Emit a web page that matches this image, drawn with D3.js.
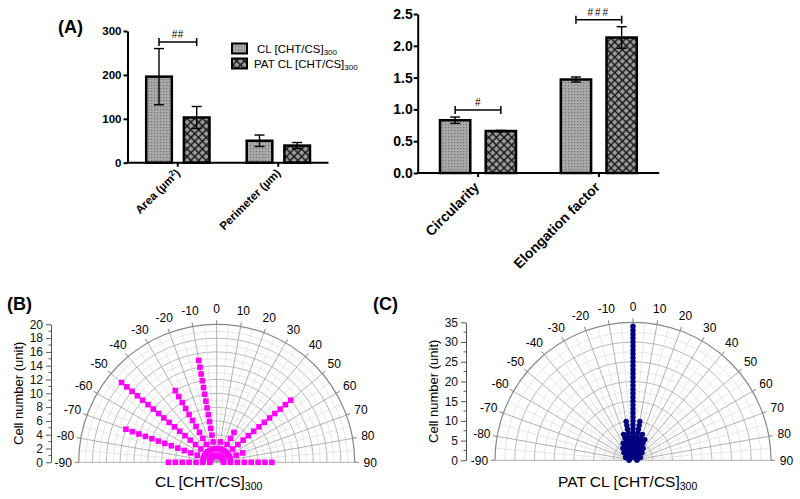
<!DOCTYPE html>
<html><head><meta charset="utf-8">
<script src="https://cdn.jsdelivr.net/npm/d3@7"></script>
<style>
body{margin:0;background:#fff;}
svg{display:block;font-family:"Liberation Sans",Arial,sans-serif;}
</style></head><body>
<svg id="c" width="800" height="499"></svg>
<script>
// ---------------- DATA ----------------
const seriesNames = ["CL", "PAT"];
const sizeCats = ["Area", "Perimeter"];
const sizeCL = [196, 50];
const sizeCLsd = [64, 13];
const sizePAT = [103, 39];
const sizePATsd = [25, 7];
const sizeTicks = [0, 100, 200, 300];
const sizeSig = [{cat: "Area", y: 275, label: "##"}];

const shapeCats = ["Circularity", "Elongation factor"];
const shapeCL = [0.83, 1.47];
const shapeCLsd = [0.05, 0.04];
const shapePAT = [0.66, 2.13];
const shapePATsd = [0.01, 0.17];
const shapeTicks = [0, 0.5, 1.0, 1.5, 2.0, 2.5];
const shapeSig = [{cat: "Circularity", y: 0.99, label: "#"}, {cat: "Elongation factor", y: 2.41, label: "###"}];

const polarAngles = [-90,-80,-70,-60,-50,-40,-30,-20,-10,0,10,20,30,40,50,60,70,80,90];
const polarAngleTicks = [-90,-80,-70,-60,-50,-40,-30,-20,-10,0,10,20,30,40,50,60,70,80,90];
const countsB = [7,2,14,2,18,2,12,2,15,2,3,2,5,2,14,2,4,2,8];
const countsC = [1,1,2,2,3,4,5,7,10,34,10,7,6,4,3,2,2,1,1];
const ticksB = [0,2,4,6,8,10,12,14,16,18,20];
const ticksC = [0,5,10,15,20,25,30,35];

// ---------------- SETUP ----------------
const svg = d3.select("#c");
const defs = svg.append("defs");
const dots = defs.append("pattern").attr("id","dots").attr("patternUnits","userSpaceOnUse")
  .attr("width",3).attr("height",3);
dots.append("rect").attr("width",3).attr("height",3).attr("fill","#a9a9a9");
dots.append("rect").attr("x",1).attr("y",1).attr("width",1.2).attr("height",1.2).attr("fill","#747474");
const hatch = defs.append("pattern").attr("id","hatch").attr("patternUnits","userSpaceOnUse")
  .attr("width",5.4).attr("height",5.4).attr("patternTransform","rotate(45)");
hatch.append("rect").attr("width",5.4).attr("height",5.4).attr("fill","#151515");
hatch.append("rect").attr("x",0.7).attr("y",0.7).attr("width",4).attr("height",4).attr("fill","#9a9a9a");
const fills = {CL: "url(#dots)", PAT: "url(#hatch)"};

function barChart(cfg) {
  const g = svg.append("g");
  const y = d3.scaleLinear().domain([cfg.ticks[0], cfg.ticks[cfg.ticks.length-1]]).range([cfg.yBottom, cfg.yTop]);
  const x0 = d3.scaleBand().domain(cfg.cats).range([cfg.xLeft, cfg.xRight]);
  const x1 = d3.scaleBand().domain(seriesNames).range(cfg.inner).paddingInner(cfg.pad);
  const means = {CL: cfg.cl, PAT: cfg.pat};
  const sds = {CL: cfg.clsd, PAT: cfg.patsd};
  cfg.cats.forEach((c, i) => {
    seriesNames.forEach(s => {
      const m = means[s][i], sd = sds[s][i];
      const bx = x0(c) + x1(s), bw = x1.bandwidth(), mx = bx + bw / 2;
      g.append("rect").attr("x", bx).attr("y", y(m)).attr("width", bw).attr("height", y(0) - y(m))
        .attr("fill", fills[s]).attr("stroke", "#000").attr("stroke-width", 2.5);
      const eg = g.append("g").attr("stroke", "#000").attr("stroke-width", 1.4);
      eg.append("line").attr("x1", mx).attr("x2", mx).attr("y1", y(m - sd)).attr("y2", y(m + sd));
      [m - sd, m + sd].forEach(v => eg.append("line").attr("x1", mx - 5).attr("x2", mx + 5).attr("y1", y(v)).attr("y2", y(v)));
    });
  });
  // y axis
  const ya = g.append("g").attr("transform", `translate(${cfg.xLeft},0)`)
    .call(d3.axisLeft(y).tickValues(cfg.ticks).tickSize(4).tickSizeOuter(0).tickPadding(cfg.tickPad).tickFormat(cfg.fmt));
  ya.select(".domain").attr("stroke-width", 2);
  ya.selectAll(".tick line").attr("stroke-width", 2);
  ya.selectAll(".tick text").attr("font-size", cfg.fs).attr("font-weight", "bold")
    .attr("font-family", '"Liberation Sans",Arial,sans-serif').attr("fill", "#000");
  // x axis
  g.append("line").attr("x1", cfg.xLeft - 1).attr("x2", cfg.xRight).attr("y1", y(0)).attr("y2", y(0))
    .attr("stroke", "#000").attr("stroke-width", 2);
  cfg.cats.forEach((c, i) => {
    const cx = x0(c) + x0.bandwidth() / 2;
    g.append("line").attr("x1", cx).attr("x2", cx).attr("y1", y(0)).attr("y2", y(0) + 4)
      .attr("stroke", "#000").attr("stroke-width", 2);
    const t = g.append("text").attr("transform", `translate(${cx + cfg.lblDx},${y(0) + cfg.lblDy}) rotate(-45)`)
      .attr("text-anchor", "end").attr("font-weight", "bold").attr("font-size", cfg.xfs);
    cfg.labelFn(t, c);
  });
  // significance brackets
  cfg.sig.forEach(sg => {
    const xa = x0(sg.cat) + x1("CL") + x1.bandwidth() / 2;
    const xb = x0(sg.cat) + x1("PAT") + x1.bandwidth() / 2;
    const yy = y(sg.y);
    const bg = g.append("g").attr("stroke", "#000").attr("stroke-width", 1.5);
    bg.append("line").attr("x1", xa).attr("x2", xb).attr("y1", yy).attr("y2", yy);
    bg.append("line").attr("x1", xa).attr("x2", xa).attr("y1", yy - 4).attr("y2", yy + 4);
    bg.append("line").attr("x1", xb).attr("x2", xb).attr("y1", yy - 4).attr("y2", yy + 4);
    g.append("text").attr("x", (xa + xb) / 2).attr("y", yy - 4).attr("text-anchor", "middle")
      .attr("font-size", 10).attr("letter-spacing", sg.label.length > 2 ? 2 : 0.5).text(sg.label);
  });
}

barChart({
  cats: sizeCats, cl: sizeCL, clsd: sizeCLsd, pat: sizePAT, patsd: sizePATsd,
  ticks: sizeTicks, fmt: d3.format("d"), yBottom: 162.7, yTop: 31,
  xLeft: 127.5, xRight: 328.5, inner: [18.7, 82], pad: 0.32, fs: 11.5, xfs: 11.5, tickPad: 2,
  lblDx: 3, lblDy: 11, sig: sizeSig,
  labelFn: (t, c) => {
    if (c === "Area") { t.append("tspan").text("Area (\u00b5m"); t.append("tspan").attr("baseline-shift","super").attr("font-size", 8).text("2"); t.append("tspan").text(")"); }
    else t.text("Perimeter (\u00b5m)");
  }
});
barChart({
  cats: shapeCats, cl: shapeCL, clsd: shapeCLsd, pat: shapePAT, patsd: shapePATsd,
  ticks: shapeTicks, fmt: d3.format(".1f"), yBottom: 173, yTop: 14,
  xLeft: 417.7, xRight: 659.3, inner: [22.3, 98.3], pad: 0.337, fs: 14, xfs: 14, tickPad: 1,
  lblDx: 2, lblDy: 15, sig: shapeSig,
  labelFn: (t, c) => t.text(c)
});

// legend
[["CL", "CL [CHT/CS]", 43.5, 257], ["PAT", "PAT CL [CHT/CS]", 58.5, 254]].forEach(([s, lab, yy, tx]) => {
  svg.append("rect").attr("x", 232).attr("y", yy).attr("width", 15).attr("height", 10)
    .attr("fill", fills[s]).attr("stroke", "#000").attr("stroke-width", 2);
  const t = svg.append("text").attr("x", tx).attr("y", yy + 9).attr("font-size", 11.5);
  t.append("tspan").text(lab);
  t.append("tspan").attr("dy", 2.5).attr("font-size", 8).text("300");
});

// ---------------- POLAR ----------------
function polarPanel(cfg) {
  const g = svg.append("g");
  const {cx, cy, R, ticks, counts, minorStep} = cfg;
  const max = ticks[ticks.length - 1];
  const r = d3.scaleLinear().domain([0, max]).range([0, R]);
  const arcPath = rr => `M${cx - rr},${cy}A${rr},${rr} 0 0 1 ${cx + rr},${cy}`;
  // minor circles
  d3.range(minorStep, max, minorStep).forEach(v => {
    if (ticks.includes(v)) return;
    g.append("path").attr("d", arcPath(r(v))).attr("fill", "none").attr("stroke", "#dcdcdc").attr("stroke-width", 0.7);
  });
  ticks.slice(1, -1).forEach(v => g.append("path").attr("d", arcPath(r(v))).attr("fill", "none")
    .attr("stroke", "#a8a8a8").attr("stroke-width", 0.8));
  // radial lines
  d3.range(-85, 90, 10).forEach(a => {
    const p = d3.pointRadial(a * Math.PI / 180, R);
    g.append("line").attr("x1", cx).attr("y1", cy).attr("x2", cx + p[0]).attr("y2", cy + p[1])
      .attr("stroke", "#dcdcdc").attr("stroke-width", 0.7);
  });
  polarAngleTicks.forEach(a => {
    const p = d3.pointRadial(a * Math.PI / 180, R);
    const q = d3.pointRadial(a * Math.PI / 180, R + 4);
    g.append("line").attr("x1", cx).attr("y1", cy).attr("x2", cx + p[0]).attr("y2", cy + p[1])
      .attr("stroke", "#a0a0a0").attr("stroke-width", 0.8);
    g.append("line").attr("x1", cx + p[0]).attr("y1", cy + p[1]).attr("x2", cx + q[0]).attr("y2", cy + q[1])
      .attr("stroke", "#808080").attr("stroke-width", 1);
    const l = d3.pointRadial(a * Math.PI / 180, R + 15.5);
    g.append("text").attr("x", cx + l[0]).attr("y", cy + l[1]).attr("dy", "0.36em")
      .attr("text-anchor", "middle").attr("font-size", 12).text(a);
  });
  g.append("path").attr("d", arcPath(R)).attr("fill", "none").attr("stroke", "#888").attr("stroke-width", 1.2);
  // data points
  const pts = polarAngles.flatMap((a, i) => d3.range(1, counts[i] + 1).map(k => ({a, k})));
  pts.forEach(d => {
    const p = d3.pointRadial(d.a * Math.PI / 180, r(d.k));
    if (cfg.marker === "square")
      g.append("rect").attr("x", cx + p[0] - 2.8).attr("y", cy + p[1] - 2.8).attr("width", 5.6).attr("height", 5.6).attr("fill", cfg.color);
    else
      g.append("circle").attr("cx", cx + p[0]).attr("cy", cy + p[1]).attr("r", 2.7).attr("fill", cfg.color);
  });
  // y axis
  const ys = d3.scaleLinear().domain([0, max]).range([cy, cy - R]);
  const ya = g.append("g").attr("transform", `translate(${cfg.axisX},0)`)
    .call(d3.axisLeft(ys).tickValues(ticks).tickSize(5).tickPadding(3).tickSizeOuter(0));
  ya.select(".domain").attr("stroke", "#555").attr("stroke-width", 1);
  ya.selectAll(".tick line").attr("stroke", "#555");
  ya.selectAll(".tick text").attr("font-size", 12).attr("font-family", '"Liberation Sans",Arial,sans-serif').attr("fill", "#111");
  d3.range(minorStep, max, minorStep).forEach(v => {
    if (ticks.includes(v)) return;
    ya.append("line").attr("x1", -2.5).attr("x2", 0).attr("y1", ys(v)).attr("y2", ys(v)).attr("stroke", "#555");
  });
  g.append("text").attr("transform", `translate(${cfg.titleX},${cy - R / 2}) rotate(-90)`)
    .attr("text-anchor", "middle").attr("font-size", 13).text("Cell number (unit)");
  const xt = g.append("text").attr("x", cfg.xTitleX).attr("y", 486.5).attr("font-size", 15.5);
  xt.append("tspan").text(cfg.xTitle);
  xt.append("tspan").attr("dy", 3.5).attr("font-size", 10.5).text("300");
}

polarPanel({cx: 216.7, cy: 462.3, R: 138, ticks: ticksB, counts: countsB, minorStep: 1,
  color: "#ff00ff", marker: "square", axisX: 51, titleX: 22.5, xTitle: "CL [CHT/CS]", xTitleX: 155});
polarPanel({cx: 633, cy: 460.3, R: 138, ticks: ticksC, counts: countsC, minorStep: 2.5,
  color: "#000080", marker: "circle", axisX: 466, titleX: 438, xTitle: "PAT CL [CHT/CS]", xTitleX: 558});

// panel labels
[["(A)", 58, 33], ["(B)", 7, 310], ["(C)", 373, 310]].forEach(([t, x, y]) =>
  svg.append("text").attr("x", x).attr("y", y).attr("font-size", 18).attr("font-weight", "bold").text(t));
</script>
</body></html>
